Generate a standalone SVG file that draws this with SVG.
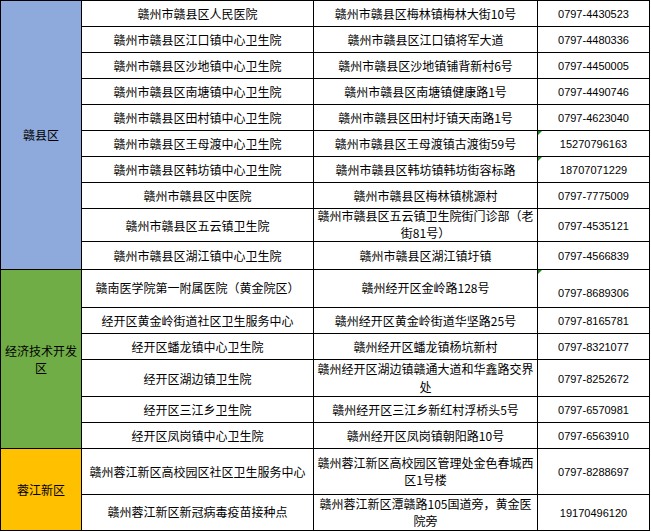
<svg xmlns="http://www.w3.org/2000/svg" width="651" height="532" viewBox="0 0 651 532">
<style>
.bg{fill:#ffffff}
.ln{stroke:#000000;stroke-width:1;fill:none}
.t{font-family:"Noto Sans CJK SC","Liberation Sans",sans-serif;font-size:12px;fill:#000000;text-anchor:middle}
.p{font-family:"Liberation Sans",Arial,sans-serif;font-size:11px;fill:#000000;text-anchor:middle}
.tri{fill:#1a8a1a}
</style>
<rect class="bg" x="0" y="0" width="651" height="532"/>
<g id="district-ganxian">
<rect x="0.5" y="0.5" width="81" height="268.5" fill="#8EA9DB"/>
<text class="t" x="41" y="139.5">赣县区</text>
</g>
<g id="district-jingkai">
<rect x="0.5" y="269" width="81" height="179.5" fill="#70AD47"/>
<text class="t" x="41" y="355.75">经济技术开发</text>
<text class="t" x="41" y="373.25">区</text>
</g>
<g id="district-rongjiang">
<rect x="0.5" y="448.5" width="81" height="82" fill="#FFC000"/>
<text class="t" x="41" y="495.2">蓉江新区</text>
</g>
<g id="grid">
<rect class="ln" x="0.5" y="0.5" width="649" height="530"/>
<line class="ln" x1="81.5" y1="0" x2="81.5" y2="531"/>
<line class="ln" x1="313.5" y1="0" x2="313.5" y2="531"/>
<line class="ln" x1="537.5" y1="0" x2="537.5" y2="531"/>
<line class="ln" x1="0" y1="269.5" x2="650" y2="269.5"/>
<line class="ln" x1="0" y1="448.5" x2="650" y2="448.5"/>
<path class="ln" d="M81.5 26.5H650M81.5 52.5H650M81.5 78.5H650M81.5 104.5H650M81.5 130.5H650M81.5 156.5H650M81.5 182.5H650M81.5 208.5H650M81.5 241.5H650M81.5 307.5H650M81.5 333.5H650M81.5 359.5H650M81.5 396.5H650M81.5 422.5H650M81.5 494.5H650"/>
</g>
<g id="markers">
<polygon class="tri" points="538,131 542,131 538,135"/>
<polygon class="tri" points="538,157 542,157 538,161"/>
<polygon class="tri" points="538,270 542,270 538,274"/>
</g>
<g id="row1"><text class="t" x="197.5" y="18.5">赣州市赣县区人民医院</text><text class="t" x="425.5" y="18.5">赣州市赣县区梅林镇梅林大街10号</text><text class="p" x="593.5" y="18">0797-4430523</text></g>
<g id="row2"><text class="t" x="197.5" y="44.5">赣州市赣县区江口镇中心卫生院</text><text class="t" x="425.5" y="44.5">赣州市赣县区江口镇将军大道</text><text class="p" x="593.5" y="44">0797-4480336</text></g>
<g id="row3"><text class="t" x="197.5" y="70.5">赣州市赣县区沙地镇中心卫生院</text><text class="t" x="425.5" y="70.5">赣州市赣县区沙地镇铺背新村6号</text><text class="p" x="593.5" y="70">0797-4450005</text></g>
<g id="row4"><text class="t" x="197.5" y="96.5">赣州市赣县区南塘镇中心卫生院</text><text class="t" x="425.5" y="96.5">赣州市赣县区南塘镇健康路1号</text><text class="p" x="593.5" y="96">0797-4490746</text></g>
<g id="row5"><text class="t" x="197.5" y="122.5">赣州市赣县区田村镇中心卫生院</text><text class="t" x="425.5" y="122.5">赣州市赣县区田村圩镇天南路1号</text><text class="p" x="593.5" y="122">0797-4623040</text></g>
<g id="row6"><text class="t" x="197.5" y="148.5">赣州市赣县区王母渡中心卫生院</text><text class="t" x="425.5" y="148.5">赣州市赣县区王母渡镇古渡街59号</text><text class="p" x="593.5" y="148">15270796163</text></g>
<g id="row7"><text class="t" x="197.5" y="174.5">赣州市赣县区韩坊镇中心卫生院</text><text class="t" x="425.5" y="174.5">赣州市赣县区韩坊镇韩坊街容标路</text><text class="p" x="593.5" y="174">18707071229</text></g>
<g id="row8"><text class="t" x="197.5" y="200.5">赣州市赣县区中医院</text><text class="t" x="425.5" y="200.5">赣州市赣县区梅林镇桃源村</text><text class="p" x="593.5" y="200">0797-7775009</text></g>
<g id="row9"><text class="t" x="197.5" y="230.5">赣州市赣县区五云镇卫生院</text><text class="t" x="425.5" y="220.75">赣州市赣县区五云镇卫生院街门诊部（老</text><text class="t" x="425.5" y="238.25">街81号）</text><text class="p" x="593.5" y="230">0797-4535121</text></g>
<g id="row10"><text class="t" x="197.5" y="260.5">赣州市赣县区湖江镇中心卫生院</text><text class="t" x="425.5" y="260.5">赣州市赣县区湖江镇圩镇</text><text class="p" x="593.5" y="260">0797-4566839</text></g>
<g id="row11"><text class="t" x="197.5" y="292.8">赣南医学院第一附属医院（黄金院区）</text><text class="t" x="425.5" y="292.8">赣州经开区金岭路128号</text><text class="p" x="593.5" y="296.7">0797-8689306</text></g>
<g id="row12"><text class="t" x="197.5" y="325.5">经开区黄金岭街道社区卫生服务中心</text><text class="t" x="425.5" y="325.5">赣州经开区黄金岭街道华坚路25号</text><text class="p" x="593.5" y="325">0797-8165781</text></g>
<g id="row13"><text class="t" x="197.5" y="351.5">经开区蟠龙镇中心卫生院</text><text class="t" x="425.5" y="351.5">赣州经开区蟠龙镇杨坑新村</text><text class="p" x="593.5" y="351">0797-8321077</text></g>
<g id="row14"><text class="t" x="197.5" y="383.8">经开区湖边镇卫生院</text><text class="t" x="425.5" y="374.25">赣州经开区湖边镇赣通大道和华鑫路交界</text><text class="t" x="425.5" y="391.75">处</text><text class="p" x="593.5" y="383.3">0797-8252672</text></g>
<g id="row15"><text class="t" x="197.5" y="414.5">经开区三江乡卫生院</text><text class="t" x="425.5" y="414.5">赣州经开区三江乡新红村浮桥头5号</text><text class="p" x="593.5" y="414">0797-6570981</text></g>
<g id="row16"><text class="t" x="197.5" y="440.5">经开区凤岗镇中心卫生院</text><text class="t" x="425.5" y="440.5">赣州经开区凤岗镇朝阳路10号</text><text class="p" x="593.5" y="440">0797-6563910</text></g>
<g id="row17"><text class="t" x="197.5" y="477.2">赣州蓉江新区高校园区社区卫生服务中心</text><text class="t" x="425.5" y="467.95">赣州蓉江新区高校园区管理处金色春城西</text><text class="t" x="425.5" y="485.45">区1号楼</text><text class="p" x="593.5" y="475.7">0797-8288697</text></g>
<g id="row18"><text class="t" x="197.5" y="517.2">赣州蓉江新区新冠病毒疫苗接种点</text><text class="t" x="425.5" y="508.6">赣州蓉江新区潭赣路105国道旁，黄金医</text><text class="t" x="425.5" y="526.1">院旁</text><text class="p" x="593.5" y="516.7">19170496120</text></g>
</svg>
